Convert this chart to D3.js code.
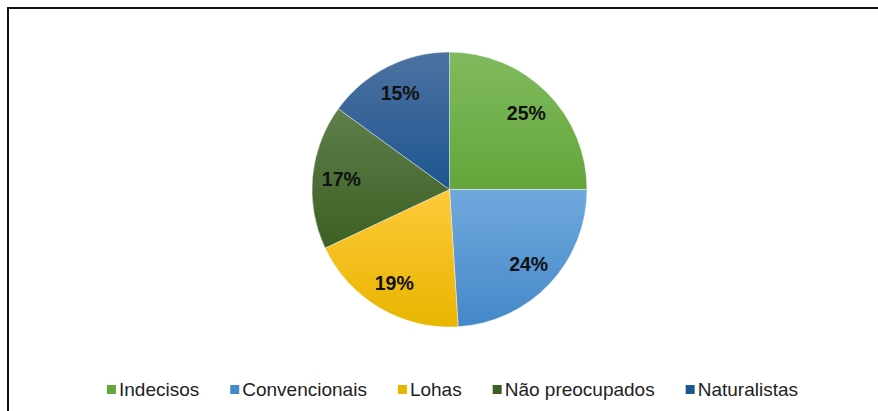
<!DOCTYPE html>
<html lang="pt">
<head>
    <meta charset="UTF-8">
    <title>Perfis de consumidores</title>
    <script src="https://d3js.org/d3.v7.min.js"></script>
    <style>
        body { margin: 0; background: #fff; }
        text { font-family: "Liberation Sans", Arial, sans-serif; }
        .pct { font-weight: bold; font-size: 19.5px; fill: #111; }
        .leg { font-size: 19px; fill: #222; }
    </style>
</head>
<body>
    <svg width="878" height="411"></svg>
    <script>
        // data
        const categories = ["Indecisos", "Convencionais", "Lohas", "Não preocupados", "Naturalistas"];
        const values = [25, 24, 19, 17, 15];
        const topColors = ["#80ba5f", "#70a8dd", "#ffc93a", "#5f7e4c", "#4d72a2"];
        const bottomColors = ["#64a63a", "#4488c9", "#e8b500", "#3c6023", "#1d5590"];

        const svg = d3.select("svg"),
              cx = 449.5, cy = 189.5, radius = 137.5;

        // outer frame (runs off the right and bottom edges)
        svg.append("rect")
            .attr("x", 8).attr("y", 8)
            .attr("width", 900).attr("height", 420)
            .attr("fill", "none")
            .attr("stroke", "#111")
            .attr("stroke-width", 2);

        const defs = svg.append("defs");
        categories.forEach(function(c, i) {
            const gr = defs.append("linearGradient")
                .attr("id", "g" + i)
                .attr("x1", 0).attr("y1", 0).attr("x2", 0).attr("y2", 1);
            gr.append("stop").attr("offset", "0%").attr("stop-color", topColors[i]);
            gr.append("stop").attr("offset", "100%").attr("stop-color", bottomColors[i]);
        });

        const data = categories.map(function(c, i) { return { name: c, value: values[i], i: i }; });
        const pie = d3.pie().sort(null).value(function(d) { return d.value; });
        const arc = d3.arc().innerRadius(0).outerRadius(radius);
        const labelArc = d3.arc().innerRadius(radius * 0.79).outerRadius(radius * 0.79);

        const g = svg.append("g").attr("transform", "translate(" + cx + "," + cy + ")");
        const arcs = pie(data);

        g.selectAll("path")
            .data(arcs)
            .enter().append("path")
            .attr("d", arc)
            .attr("fill", function(d) { return "url(#g" + d.data.i + ")"; })
            .attr("stroke", "rgba(255,255,255,0.5)")
            .attr("stroke-width", 0.8);

        g.selectAll("text.pct")
            .data(arcs)
            .enter().append("text")
            .attr("class", "pct")
            .attr("transform", function(d) { return "translate(" + labelArc.centroid(d) + ")"; })
            .attr("text-anchor", "middle")
            .attr("dy", "0.36em")
            .text(function(d) { return d.data.value + "%"; });

        // legend, laid out left to right then centred
        const leg = svg.append("g");
        const gap = 31;
        let xPos = 0;
        data.forEach(function(d) {
            const item = leg.append("g").attr("transform", "translate(" + xPos + ",0)");
            item.append("rect")
                .attr("x", 0).attr("y", -11)
                .attr("width", 9).attr("height", 9)
                .attr("fill", bottomColors[d.i]);
            const t = item.append("text")
                .attr("class", "leg")
                .attr("x", 12).attr("y", 0)
                .text(d.name);
            xPos += 12 + t.node().getComputedTextLength() + gap;
        });
        const legWidth = xPos - gap;
        leg.attr("transform", "translate(" + (452.5 - legWidth / 2) + ",396)");
    </script>
</body>
</html>
